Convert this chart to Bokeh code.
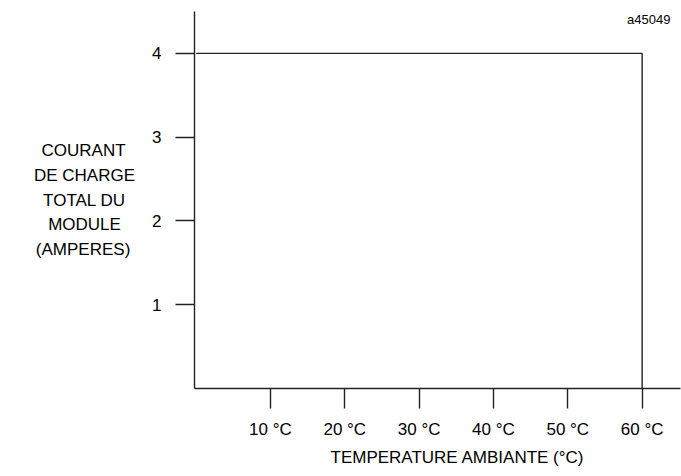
from bokeh.plotting import figure
from bokeh.models import Range1d, FixedTicker, Label, Title
from bokeh.embed import file_html
from bokeh.resources import INLINE

# Data
temperature_c = [0, 60, 60]
current_a = [4, 4, 0]
x_ticks = [10, 20, 30, 40, 50, 60]
x_tick_labels = ["10 °C", "20 °C", "30 °C", "40 °C", "50 °C", "60 °C"]
y_ticks = [1, 2, 3, 4]
y_label_lines = ["COURANT", "DE CHARGE", "TOTAL DU", "MODULE", "(AMPERES)"]
x_label_text = "TEMPERATURE AMBIANTE (°C)"
ref_text = "a45049"

FONT = "Liberation Sans"
LINE = "#222222"
W, H = 681, 476
LEFT, TOP, BOTTOM, RIGHT = 194, 11, 88, 1

# Liberation Sans advance widths (per 1000 em) used to centre the right-aligned label lines
ADV = {"A": 667, "B": 667, "C": 722, "D": 722, "E": 667, "G": 778, "H": 722, "L": 556,
       "M": 833, "N": 722, "O": 778, "P": 667, "R": 722, "S": 667, "T": 611, "U": 722,
       " ": 278, "(": 333, ")": 333}

def centred(lines):
    widths = [sum(ADV.get(c, 600) for c in s) for s in lines]
    wmax = max(widths)
    return [s + "\u00a0" * int(round((wmax - w) / 2 / 278)) for s, w in zip(lines, widths)]

p = figure(width=W, height=H, output_backend="svg", toolbar_location=None,
           x_range=Range1d(-0.215, 65.16), y_range=Range1d(0, 4.5),
           min_border_left=LEFT, min_border_right=RIGHT, min_border_top=TOP,
           min_border_bottom=BOTTOM)
p.outline_line_color = None
p.xgrid.visible = False
p.ygrid.visible = False
p.background_fill_color = "white"
p.border_fill_color = "white"

for ax in (p.xaxis[0], p.yaxis[0]):
    ax.axis_line_color = LINE
    ax.axis_line_width = 1.4
    ax.major_tick_line_color = LINE
    ax.major_tick_line_width = 1.4
    ax.minor_tick_line_color = None
    ax.major_tick_in = 0
    ax.major_label_text_font = FONT
    ax.major_label_text_font_size = "17px"
    ax.major_label_text_color = "black"
    ax.axis_label_text_font = FONT
    ax.axis_label_text_font_size = "17px"
    ax.axis_label_text_font_style = "normal"
    ax.axis_label_text_color = "black"

p.xaxis.ticker = FixedTicker(ticks=x_ticks)
p.xaxis.major_label_overrides = {t: l for t, l in zip(x_ticks, x_tick_labels)}
p.xaxis.major_tick_out = 20
p.xaxis.major_label_standoff = 11

p.yaxis.ticker = FixedTicker(ticks=y_ticks)
p.yaxis.major_tick_out = 19
p.yaxis.major_label_standoff = 14

# multi-line horizontal y-axis label
p.yaxis.axis_label = "\n".join(centred(y_label_lines))
p.yaxis.axis_label_orientation = "horizontal"
p.yaxis.axis_label_standoff = 14
p.yaxis.axis_label_text_line_height = 1.3

p.line(temperature_c, current_a, line_color=LINE, line_width=1.4)

# x-axis title below
p.add_layout(Title(text=x_label_text, align="left", offset=136, text_font=FONT,
                   text_font_size="17px", text_font_style="normal", text_color="black",
                   standoff=8), "below")

frame_bottom = H - BOTTOM
p.add_layout(Label(x=670 - LEFT, y=frame_bottom - 19, x_units="screen", y_units="screen",
                   text=ref_text, text_font=FONT, text_font_size="13px", text_color="black",
                   text_align="right", text_baseline="middle"))

open("out.html", "w").write(file_html(p, INLINE))
